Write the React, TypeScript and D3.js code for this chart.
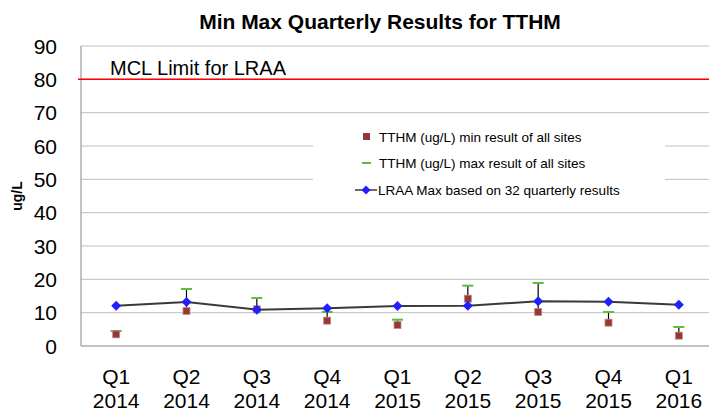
import { useEffect, useRef } from "react";
import * as d3 from "d3";

const quarters = ["Q1", "Q2", "Q3", "Q4", "Q1", "Q2", "Q3", "Q4", "Q1"];
const years = ["2014", "2014", "2014", "2014", "2015", "2015", "2015", "2015", "2016"];
const minVals = [3.5, 10.5, 11.0, 7.6, 6.3, 14.2, 10.2, 7.0, 3.1];
const maxVals = [4.5, 17.1, 14.4, 10.2, 7.9, 18.1, 18.9, 10.2, 5.7];
const lraaVals = [12.1, 13.2, 10.9, 11.3, 12.0, 12.1, 13.4, 13.3, 12.4];
const yTicks = [0, 10, 20, 30, 40, 50, 60, 70, 80, 90];
const mclLimit = 80;

const FONT = "'Liberation Sans', Arial, sans-serif";

export default function App() {
  const ref = useRef<SVGSVGElement>(null);

  useEffect(() => {
    const svg = d3.select(ref.current!);
    svg.selectAll("*").remove();

    const left = 81, right = 714, top = 46, bottom = 346;
    const idx = quarters.map((_, i) => String(i));
    const x = d3.scalePoint<string>().domain(idx).range([left, right]).padding(0.5);
    const y = d3.scaleLinear().domain([0, 90]).range([bottom, top]);

    // grid
    svg.append("g").selectAll("line").data(yTicks.slice(1)).join("line")
      .attr("x1", left).attr("x2", 709)
      .attr("y1", (d) => y(d)).attr("y2", (d) => y(d))
      .attr("stroke", "#bfbfbf").attr("stroke-width", 1);

    // axes
    svg.append("line").attr("x1", left).attr("x2", left).attr("y1", top).attr("y2", bottom)
      .attr("stroke", "#868686");
    svg.append("line").attr("x1", left).attr("x2", 709).attr("y1", bottom).attr("y2", bottom)
      .attr("stroke", "#868686");

    svg.append("g").selectAll("text").data(yTicks).join("text")
      .attr("x", 57).attr("y", (d) => y(d)).attr("dy", "0.36em")
      .attr("text-anchor", "end").attr("font-family", FONT).attr("font-size", 21)
      .attr("fill", "#000").text((d) => d);

    const xl = svg.append("g");
    idx.forEach((k, i) => {
      xl.append("text").attr("x", x(k)!).attr("y", 384).attr("text-anchor", "middle")
        .attr("font-family", FONT).attr("font-size", 21).text(quarters[i]);
      xl.append("text").attr("x", x(k)!).attr("y", 408).attr("text-anchor", "middle")
        .attr("font-family", FONT).attr("font-size", 21).text(years[i]);
    });

    svg.append("text").attr("transform", `translate(22,${(top + bottom) / 2}) rotate(-90)`)
      .attr("text-anchor", "middle").attr("font-family", FONT).attr("font-size", 14)
      .attr("font-weight", "bold").text("ug/L");

    // title
    svg.append("text").attr("x", 380).attr("y", 29).attr("text-anchor", "middle")
      .attr("font-family", FONT).attr("font-size", 21).attr("font-weight", "bold")
      .text("Min Max Quarterly Results for TTHM");

    // MCL
    svg.append("line").attr("x1", 78).attr("x2", 709).attr("y1", y(mclLimit)).attr("y2", y(mclLimit))
      .attr("stroke", "#ff0000").attr("stroke-width", 1.5);
    svg.append("text").attr("x", 110).attr("y", y(mclLimit) - 4)
      .attr("font-family", FONT).attr("font-size", 20).text("MCL Limit for LRAA");

    // legend background
    svg.append("rect").attr("x", 313).attr("y", 120).attr("width", 352).attr("height", 84).attr("fill", "#fff");

    // high-low lines
    svg.append("g").selectAll("line").data(idx).join("line")
      .attr("x1", (k) => x(k)!).attr("x2", (k) => x(k)!)
      .attr("y1", (_, i) => y(minVals[i])).attr("y2", (_, i) => y(maxVals[i]))
      .attr("stroke", "#000").attr("stroke-width", 1.2);

    // LRAA line
    const line = d3.line<number>().x((_, i) => x(idx[i])!).y((d) => y(d));
    svg.append("path").datum(lraaVals).attr("d", line).attr("fill", "none")
      .attr("stroke", "#3a3a3a").attr("stroke-width", 2);

    // max markers
    svg.append("g").selectAll("line").data(maxVals).join("line")
      .attr("x1", (_, i) => x(idx[i])! - 5.5).attr("x2", (_, i) => x(idx[i])! + 5.5)
      .attr("y1", (d) => y(d)).attr("y2", (d) => y(d))
      .attr("stroke", "#5cbf3a").attr("stroke-width", 2);

    // min markers
    svg.append("g").selectAll("rect").data(minVals).join("rect")
      .attr("x", (_, i) => x(idx[i])! - 3.5).attr("y", (d) => y(d) - 3.5)
      .attr("width", 7).attr("height", 7)
      .attr("fill", "#953735").attr("stroke", "#c08a89").attr("stroke-width", 0.8);

    // LRAA diamonds
    const diamond = (cx: number, cy: number, r: number) =>
      `M${cx},${cy - r}L${cx + r},${cy}L${cx},${cy + r}L${cx - r},${cy}Z`;
    svg.append("g").selectAll("path").data(lraaVals).join("path")
      .attr("d", (d, i) => diamond(x(idx[i])!, y(d), 5))
      .attr("fill", "#2020ff");

    // legend
    const lg = svg.append("g").attr("font-family", FONT).attr("font-size", 13.5);
    lg.append("rect").attr("x", 363).attr("y", 133).attr("width", 7).attr("height", 7)
      .attr("fill", "#953735");
    lg.append("text").attr("x", 379).attr("y", 141.5).text("TTHM (ug/L) min result of all sites");
    lg.append("line").attr("x1", 362).attr("x2", 371).attr("y1", 163).attr("y2", 163)
      .attr("stroke", "#5cbf3a").attr("stroke-width", 2);
    lg.append("text").attr("x", 379).attr("y", 168).text("TTHM (ug/L) max result of all sites");
    lg.append("line").attr("x1", 355).attr("x2", 377).attr("y1", 190).attr("y2", 190)
      .attr("stroke", "#3a3a3a").attr("stroke-width", 1.5);
    lg.append("path").attr("d", diamond(366, 190, 4.5)).attr("fill", "#2020ff");
    lg.append("text").attr("x", 378).attr("y", 195).text("LRAA Max based on 32 quarterly results");
  }, []);

  return (
    <svg ref={ref} width={709} height={411}
      style={{ position: "absolute", left: 0, top: 0, background: "#fff" }} />
  );
}
